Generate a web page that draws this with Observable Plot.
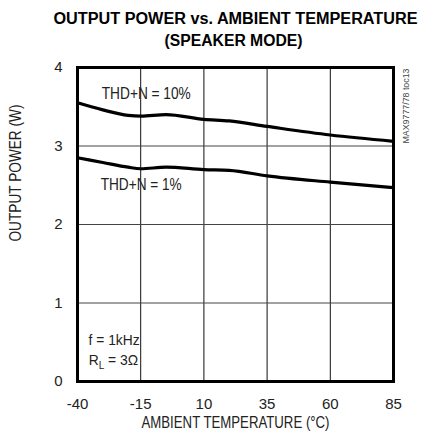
<!DOCTYPE html>
<html>
<head>
<meta charset="utf-8">
<script src="https://cdn.jsdelivr.net/npm/d3@7"></script>
<script src="https://cdn.jsdelivr.net/npm/@observablehq/plot@0.6"></script>
<style>
  body { margin: 0; background: #fff; }
</style>
</head>
<body>
<div id="chart"></div>
<script>
// Data
const temps10 = [-40, -30, -20, -15, -5, 10, 20, 35, 60, 85];
const power10 = [3.55, 3.46, 3.39, 3.38, 3.40, 3.34, 3.32, 3.25, 3.14, 3.06];
const temps1 = [-40, -30, -20, -15, -5, 10, 20, 35, 60, 85];
const power1 = [2.85, 2.79, 2.73, 2.71, 2.73, 2.70, 2.69, 2.62, 2.54, 2.47];
const xTicks = [-40, -15, 10, 35, 60, 85];
const yTicks = [0, 1, 2, 3, 4];
const titleLines = ["OUTPUT POWER vs. AMBIENT TEMPERATURE", "(SPEAKER MODE)"];
const xLabel = "AMBIENT TEMPERATURE (°C)";
const yLabel = "OUTPUT POWER (W)";
const curveLabels = [
  {x: -12.8, y: 3.66, text: "THD+N = 10%"},
  {x: -14.8, y: 2.51, text: "THD+N = 1%"}
];
const condLabels = [
  {x: -35.6, y: 0.53, text: "f = 1kHz"}
];
const rlLabel = {x: -35.4, y: 0.27, main: "R", sub: "L", rest: " = 3Ω"};
const watermark = "MAX9777/78 toc13";

// text widths (condensed type in the original)
const textWidths = new Map([
  [titleLines[0], 364],
  [titleLines[1], 138],
  [xLabel, 188],
  [yLabel, 137],
  ["THD+N = 10%", 89],
  ["THD+N = 1%", 81],
  ["f = 1kHz", 51],
  [watermark, 75]
]);

const series = [
  ...temps10.map((t, i) => ({t, p: power10[i], s: "10%"})),
  ...temps1.map((t, i) => ({t, p: power1[i], s: "1%"}))
];

const font = "'Liberation Sans', Arial, sans-serif";

const plot = Plot.plot({
  width: 422,
  height: 442,
  marginLeft: 77,
  marginRight: 29,
  marginTop: 67,
  marginBottom: 61,
  style: {fontSize: "15px", fontFamily: font, background: "#fff", color: "#222"},
  x: {domain: [-40, 85], label: null},
  y: {domain: [0, 4], label: null},
  marks: [
    Plot.gridX([-15, 10, 35, 60], {stroke: "#111", strokeOpacity: 1, strokeWidth: 1}),
    Plot.gridY([1, 2, 3], {stroke: "#444", strokeOpacity: 1, strokeWidth: 1}),
    Plot.line(series, {x: "t", y: "p", z: "s", stroke: "#000", strokeWidth: 3.2, curve: "monotone-x"}),
    Plot.frame({stroke: "#000", strokeWidth: 3}),
    Plot.axisX({ticks: xTicks, tickSize: 0, tickPadding: 17, fontSize: 15, label: null, tickFormat: d => String(d), fill: "#222"}),
    Plot.axisY({ticks: yTicks, tickSize: 0, tickPadding: 15, fontSize: 15, label: null, tickFormat: d => String(d), fill: "#222"}),
    Plot.text(curveLabels, {x: "x", y: "y", text: "text", fontSize: 16, fill: "#222"}),
    Plot.text(condLabels, {x: "x", y: "y", text: "text", fontSize: 15, fill: "#222", textAnchor: "start"}),
    Plot.text([xLabel], {frameAnchor: "bottom", dy: 46, fontSize: 16, fill: "#222"}),
    Plot.text([yLabel], {frameAnchor: "left", dx: -62, dy: 17, rotate: -90, fontSize: 16, fill: "#222"}),
    Plot.text([titleLines[0]], {frameAnchor: "top", dy: -55, fontSize: 16, fontWeight: "bold", fill: "#000"}),
    Plot.text([titleLines[1]], {frameAnchor: "top", dy: -33, dx: -2, fontSize: 16, fontWeight: "bold", fill: "#000"}),
    Plot.text([watermark], {frameAnchor: "top-right", dx: 9, dy: 1, rotate: -90, textAnchor: "end", fontSize: 9, fill: "#444"})
  ]
});
document.getElementById("chart").append(plot);

const svg = d3.select(plot);
svg.selectAll("text").each(function() {
  const s = this.textContent;
  if (textWidths.has(s)) {
    this.setAttribute("textLength", textWidths.get(s));
    this.setAttribute("lengthAdjust", "spacingAndGlyphs");
  }
});

// R_L = 3Ω with subscript, placed through the plot's scales
const xs = plot.scale("x"), ys = plot.scale("y");
const t = svg.append("text")
  .attr("x", xs.apply(rlLabel.x))
  .attr("y", ys.apply(rlLabel.y) + 5)
  .attr("text-anchor", "start")
  .attr("font-size", 15)
  .attr("font-family", font)
  .attr("fill", "#222");
t.append("tspan").attr("textLength", 10).attr("lengthAdjust", "spacingAndGlyphs").text(rlLabel.main);
t.append("tspan").attr("font-size", 10).attr("dy", 4).text(rlLabel.sub);
t.append("tspan").attr("dy", -4).attr("textLength", 34).attr("lengthAdjust", "spacingAndGlyphs").text(rlLabel.rest);
</script>
</body>
</html>
